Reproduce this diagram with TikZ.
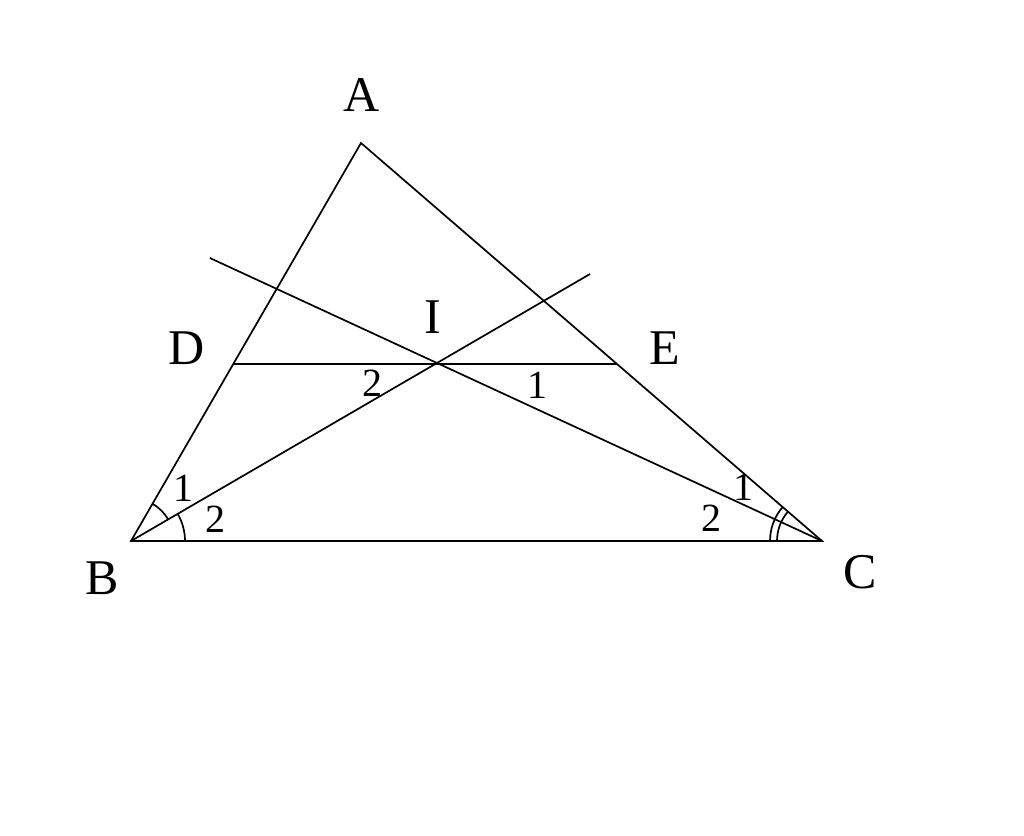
\documentclass[tikz,border=0pt]{standalone}
\usepackage{fontspec}
\setmainfont{Liberation Serif}
\usetikzlibrary{calc}
\begin{document}
\begin{tikzpicture}[x=1pt,y=-1pt,line width=1.7pt,
  lbl/.style={font=\fontsize{50}{50}\selectfont},
  num/.style={font=\fontsize{40}{40}\selectfont}]
\useasboundingbox (0,0) rectangle (1024,835);
%POINTS
\coordinate (A) at (361,143);
\coordinate (B) at (131,541);
\coordinate (C) at (822,541);
\coordinate (D) at ($(B)!0.4447!(A)$);
\coordinate (E) at ($(C)!0.4447!(A)$);
\coordinate (I) at (437,363);
\coordinate (P) at ($(C)!1.59!(I)$);
\coordinate (Q) at ($(B)!1.5!(I)$);
%TRIANGLE
\draw (A) -- (B) -- (C) -- cycle;
\draw (D) -- (E);
%BISECTORS
\draw (C) -- (P);
\draw (B) -- (Q);
%ANGLES
\draw ($(B)+(-30.3:43)$) arc (-30.3:-60:43);
\draw ($(B)+(0:54)$) arc (0:-30.3:54);
\draw ($(C)+(180:45)$) arc (180:220.8:45);
\draw ($(C)+(180:52)$) arc (180:220.8:52);
%LABELS
\node[lbl] (lA) at (362,95) {A};
\node[lbl] (lB) at (102,578) {B};
\node[lbl] (lC) at (860,572) {C};
\node[lbl] (lD) at (187,348) {D};
\node[lbl] (lE) at (665,348) {E};
\node[lbl] (lI) at (433,317) {I};
\node[num] (b1) at (183,488) {1};
\node[num] (b2) at (215,519) {2};
\node[num] (c1) at (743,487) {1};
\node[num] (c2) at (711,518) {2};
\node[num] (i2) at (372,383) {2};
\node[num] (i1) at (537,385) {1};
\end{tikzpicture}
\end{document}
